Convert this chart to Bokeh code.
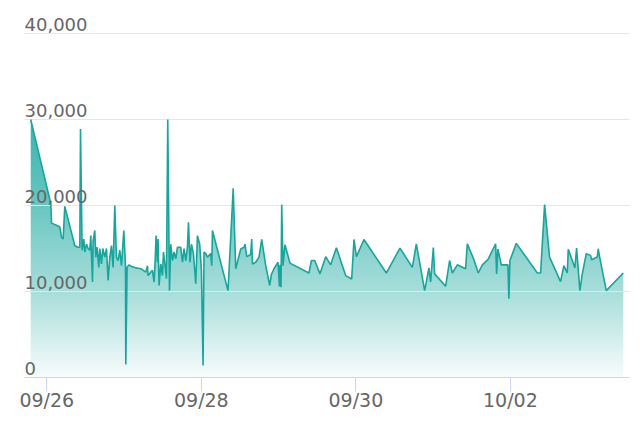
import numpy as np
import pandas as pd
from bokeh.plotting import figure
from bokeh.models import Range1d, FixedTicker, DatetimeTickFormatter, Grid
from bokeh.core.properties import value
from bokeh.embed import file_html
from bokeh.resources import INLINE

YEAR = "2023"
times = [
    "09-25 19:00", "09-26 01:15", "09-26 01:28", "09-26 03:00", "09-26 04:02", "09-26 04:34",
    "09-26 05:04", "09-26 05:35", "09-26 08:41", "09-26 09:32", "09-26 10:15", "09-26 10:28",
    "09-26 10:58", "09-26 11:29", "09-26 11:48", "09-26 12:20", "09-26 12:49", "09-26 13:21",
    "09-26 13:40", "09-26 14:11", "09-26 14:23", "09-26 14:54", "09-26 15:13", "09-26 15:37",
    "09-26 16:09", "09-26 16:27", "09-26 16:59", "09-26 17:23", "09-26 18:01", "09-26 18:32",
    "09-26 19:02", "09-26 19:34", "09-26 20:05", "09-26 20:35", "09-26 21:07", "09-26 21:38",
    "09-26 22:08", "09-26 22:40", "09-26 23:12", "09-26 23:55", "09-27 00:26", "09-27 00:32",
    "09-27 00:56", "09-27 01:28", "09-27 02:23", "09-27 03:19", "09-27 05:11", "09-27 06:44",
    "09-27 07:16", "09-27 07:27", "09-27 08:17", "09-27 08:49", "09-27 09:19", "09-27 09:38",
    "09-27 09:56", "09-27 10:22", "09-27 10:33", "09-27 10:52", "09-27 11:24", "09-27 11:55",
    "09-27 12:14", "09-27 12:44", "09-27 13:10", "09-27 13:34", "09-27 14:06", "09-27 14:30",
    "09-27 15:02", "09-27 15:31", "09-27 16:03", "09-27 16:35", "09-27 17:36", "09-27 18:08",
    "09-27 18:38", "09-27 19:10", "09-27 19:41", "09-27 20:00", "09-27 20:29", "09-27 20:56",
    "09-27 21:33", "09-27 22:16", "09-27 22:47", "09-27 23:30", "09-28 00:02", "09-28 00:32",
    "09-28 00:50", "09-28 01:22", "09-28 01:54", "09-28 02:55", "09-28 03:14", "09-28 03:27",
    "09-28 08:17", "09-28 09:54", "09-28 10:41", "09-28 12:14", "09-28 13:16", "09-28 13:34",
    "09-28 14:06", "09-28 15:20", "09-28 15:39", "09-28 15:52", "09-28 16:53", "09-28 17:55",
    "09-28 18:45", "09-28 20:00", "09-28 21:14", "09-28 21:46", "09-28 22:34", "09-28 23:49",
    "09-29 00:15", "09-29 00:26", "09-29 00:45", "09-29 00:58", "09-29 01:22", "09-29 01:59",
    "09-29 03:32", "09-29 09:26", "09-29 10:11", "09-29 11:13", "09-29 12:51", "09-29 14:38",
    "09-29 16:11", "09-29 17:57", "09-29 20:50", "09-29 22:42", "09-29 23:25", "09-30 00:10",
    "09-30 02:31", "09-30 09:28", "09-30 13:42", "09-30 17:33", "09-30 18:47", "09-30 21:22",
    "09-30 22:42", "09-30 23:13", "10-01 00:04", "10-01 00:28", "10-01 03:53", "10-01 05:07",
    "10-01 05:58", "10-01 07:31", "10-01 10:05", "10-01 10:37", "10-01 12:40", "10-01 14:02",
    "10-01 15:17", "10-01 17:01", "10-01 19:25", "10-01 19:43", "10-01 20:07", "10-01 21:11",
    "10-01 23:14", "10-01 23:32", "10-01 23:51", "10-02 01:50", "10-02 08:22", "10-02 09:23",
    "10-02 10:38", "10-02 12:10", "10-02 15:35", "10-02 16:37", "10-02 17:40", "10-02 17:59",
    "10-02 20:02", "10-02 20:34", "10-02 21:35", "10-02 22:20", "10-02 23:34", "10-03 00:54",
    "10-03 01:13", "10-03 02:59", "10-03 03:17", "10-03 03:42", "10-03 05:47", "10-03 11:04",
]
values = [
    30000, 20200, 17950, 17700, 17500, 16300,
    16100, 19900, 15350, 15150, 15150, 28900,
    14800, 16100, 14600, 15500, 15000, 14800,
    16500, 11100, 15900, 17100, 14000, 15150,
    12800, 15000, 13200, 15000, 14000, 15000,
    11300, 14000, 15350, 12800, 20000, 14000,
    13600, 14800, 13000, 17100, 13100, 1500,
    12800, 13100, 12900, 12800, 12650, 12250,
    13000, 11850, 12250, 12450, 11100, 13400,
    16500, 13400, 16100, 10700, 13200, 11850,
    14600, 13000, 11500, 30000, 10100, 15500,
    13600, 14600, 13800, 15150, 15150, 13400,
    15000, 13600, 15150, 18050, 13400, 15500,
    14400, 10900, 16500, 15500, 12400, 1400,
    14600, 14400, 14000, 14400, 13000, 17100,
    10100, 22000, 12650, 14950, 15150, 15500,
    14050, 14300, 16100, 13200, 13400, 14000,
    16050, 13000, 10700, 12000, 12650, 13400,
    10600, 13100, 10500, 20100, 13000, 15450,
    13300, 12150, 13600, 13600, 12050, 14050,
    13100, 15100, 11850, 11450, 16050, 14050,
    16050, 12150, 15050, 12800, 15550, 10100,
    12750, 11100, 15100, 12050, 10600, 13600,
    12150, 13100, 12650, 15550, 13700, 12150,
    13100, 13700, 15550, 12050, 14950, 13100,
    13100, 9150, 13600, 15600, 12150, 12150,
    20100, 14000, 11150, 13000, 12150, 14900,
    12750, 15050, 10100, 12050, 14400, 14200,
    13700, 14000, 14950, 14050, 10100, 12150,
]
y_ticks = [0, 10000, 20000, 30000, 40000]
y_tick_labels = ["0", "10,000", "20,000", "30,000", "40,000"]
x_tick_dates = ["2023-09-26", "2023-09-28", "2023-09-30", "2023-10-02"]

t = pd.to_datetime([f"{YEAR}-{s}" for s in times], format="%Y-%m-%d %H:%M")
tms = (t.astype("int64") // 10**6).to_numpy().astype(float)
v = np.array(values, dtype=float)
x_ticks_ms = [float(pd.Timestamp(d).value // 10**6) for d in x_tick_dates]

span = tms[-1] - tms[0]
pad = span * 0.0105
x0, x1 = tms[0] - pad, tms[-1] + pad
y_top = 42442

p = figure(width=637, height=421, x_axis_type="datetime", y_axis_location=None,
           output_backend="svg", toolbar_location=None,
           x_range=Range1d(x0, x1), y_range=Range1d(0, y_top),
           min_border_left=24, min_border_right=8, min_border_top=12, min_border_bottom=44)
p.outline_line_color = None
p.background_fill_color = "white"
p.border_fill_color = "white"
p.xgrid.visible = False

# gradient fill: vertical image masked above the line
vmax = v.max()
n = 256
f = np.linspace(0, 1, n)
alpha = np.interp(f, [0, 1/3, 2/3, 1], [0.03, 0.38, 0.65, 0.87])
base = np.array([26, 168, 160], dtype=float)
rgb = 255 - alpha[:, None] * (255 - base[None, :])
img = np.zeros((n, 1), dtype=np.uint32)
view = img.view(dtype=np.uint8).reshape((n, 1, 4))
view[:, 0, 0] = rgb[:, 0].astype(np.uint8)
view[:, 0, 1] = rgb[:, 1].astype(np.uint8)
view[:, 0, 2] = rgb[:, 2].astype(np.uint8)
view[:, 0, 3] = 255
p.image_rgba(image=[img], x=tms[0], y=0, dw=span, dh=vmax, level="image")
# white mask above the line, extended to the range edges to avoid seams
mx = np.concatenate([[x0], tms, [x1]])
my = np.concatenate([[v[0]], v, [v[-1]]])
p.varea(x=mx, y1=my, y2=np.full_like(my, y_top * 1.05), fill_color="white", level="image")

grid = Grid(dimension=1, ticker=FixedTicker(ticks=y_ticks), grid_line_color="#e6e6e6",
            grid_line_width=1)
p.add_layout(grid)

p.line(tms, v, line_color="#17a59c", line_width=1.6)

p.text(x=[x0] * len(y_ticks), y=y_ticks, text=y_tick_labels,
       text_font=value("DejaVu Sans"), text_font_size="18px", text_color="#666666",
       text_align="left", text_baseline="alphabetic", y_offset=-9)

ax = p.xaxis[0]
ax.ticker = FixedTicker(ticks=x_ticks_ms)
ax.formatter = DatetimeTickFormatter(days="%m/%d", months="%m/%d", hours="%m/%d",
                                     years="%m/%d")
ax.axis_line_color = "#ccd6eb"
ax.major_tick_line_color = "#ccd6eb"
ax.minor_tick_line_color = None
ax.major_tick_in = 0
ax.major_tick_out = 14
ax.major_label_standoff = -3
ax.major_label_text_font = "DejaVu Sans"
ax.major_label_text_font_size = "19px"
ax.major_label_text_color = "#666666"

open("out.html", "w").write(file_html(p, INLINE))
